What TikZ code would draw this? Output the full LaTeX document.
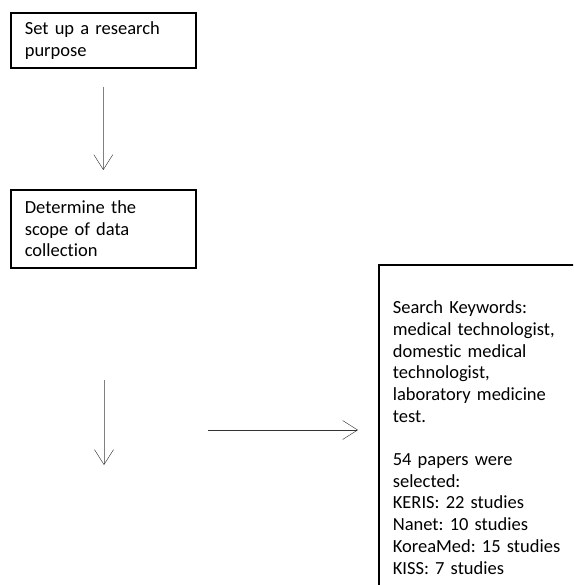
\documentclass[tikz,border=0pt]{standalone}
\usepackage{fontspec}
\setmainfont{Carlito}[Ligatures=NoCommon]
\frenchspacing
\usetikzlibrary{arrows.meta}

\begin{document}
\begin{tikzpicture}[x=1pt,y=-1pt,-{Straight Barb[length=15pt,width=19pt,color=black!85]},
        thin,box node/.style={draw,line width=1.6pt,anchor=north west,align=left,
        inner xsep=14pt,font=\fontsize{18.5}{21.7}\selectfont}]
    \useasboundingbox (0,0) rectangle (573,585);
    \clip (0,0) rectangle (573,585);

    % Define vertices
    \node[box node,text width=157pt,minimum height=55pt] (1) at (10,12) {Set up a research\\purpose};
    \node[box node,text width=157pt,minimum height=78pt] (2) at (10,189) {Determine the\\scope of data\\collection};
    \node[box node,text width=200pt,inner ysep=36pt] (3) at (378,264) {Search Keywords:\\medical technologist,\\domestic medical\\technologist,\\laboratory medicine\\test.\\[21.7pt]54 papers were\\selected:\\KERIS: 22 studies\\Nanet: 10 studies\\KoreaMed: 15 studies\\KISS: 7 studies};
    \coordinate (a) at (104,380);
    \coordinate (b) at (104,465);
    \coordinate (c) at (208,430);

    % Draw edges
    \path[every edge/.style={draw,gray}]
        (1) edge[shorten <=18pt,shorten >=19pt] (2)
        (a) edge (b)
        (c) edge[black!80,shorten >=20pt] (c -| 3.west);

\end{tikzpicture}
\end{document}
